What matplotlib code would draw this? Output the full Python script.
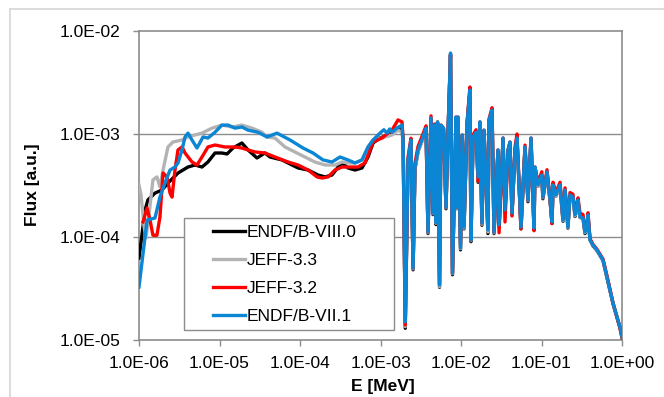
import matplotlib
matplotlib.use("Agg")
import matplotlib.pyplot as plt
from matplotlib.lines import Line2D
from matplotlib.patches import Rectangle

# ---------------- data ----------------
series_names = ["ENDF/B-VIII.0", "JEFF-3.3", "JEFF-3.2", "ENDF/B-VII.1"]
series_colors = ["#000000", "#b3b3b3", "#ff0000", "#0a86d4"]

x_ticks = [1e-6, 1e-5, 1e-4, 1e-3, 1e-2, 1e-1, 1e0]
x_tick_labels = ["1.0E-06", "1.0E-05", "1.0E-04", "1.0E-03", "1.0E-02", "1.0E-01", "1.0E+00"]
y_ticks = [1e-5, 1e-4, 1e-3, 1e-2]
y_tick_labels = ["1.0E-05", "1.0E-04", "1.0E-03", "1.0E-02"]

# low-energy part (thermal / epithermal), each library separately
black_E_low = [1.0e-6, 1.19e-6, 1.29e-6, 1.58e-6, 1.93e-6, 2.29e-6, 3.05e-6, 4.06e-6, 4.96e-6,
               6.06e-6, 7.19e-6, 8.79e-6, 1.07e-5, 1.24e-5, 1.47e-5, 1.90e-5, 2.26e-5, 2.92e-5,
               3.67e-5, 4.24e-5, 5.97e-5, 7.96e-5, 9.45e-5, 1.26e-4, 1.67e-4, 2.05e-4, 2.50e-4,
               2.97e-4, 3.33e-4, 3.95e-4, 4.82e-4, 5.89e-4, 7.00e-4, 8.08e-4, 9.86e-4, 1.24e-3,
               1.51e-3, 1.70e-3, 1.85e-3]
black_flux_low = [6.25e-5, 1.83e-4, 2.29e-4, 2.67e-4, 2.86e-4, 3.34e-4, 4.18e-4, 4.78e-4, 5.00e-4,
                  4.78e-4, 5.35e-4, 6.54e-4, 6.54e-4, 6.40e-4, 7.31e-4, 8.18e-4, 7.00e-4, 5.85e-4,
                  6.54e-4, 5.98e-4, 5.60e-4, 5.00e-4, 4.68e-4, 4.47e-4, 4.00e-4, 3.83e-4, 4.00e-4,
                  4.78e-4, 5.23e-4, 4.68e-4, 4.47e-4, 4.68e-4, 5.98e-4, 8.18e-4, 9.14e-4, 9.78e-4,
                  1.09e-3, 1.17e-3, 1.09e-3]

grey_E_low = [1.0e-6, 1.06e-6, 1.15e-6, 1.22e-6, 1.33e-6, 1.49e-6, 1.67e-6, 1.82e-6, 1.99e-6,
              2.29e-6, 2.64e-6, 3.42e-6, 4.06e-6, 4.96e-6, 6.06e-6, 8.07e-6, 1.07e-5, 1.43e-5,
              1.90e-5, 2.54e-5, 3.37e-5, 3.89e-5, 4.89e-5, 6.51e-5, 8.67e-5, 1.15e-4, 1.53e-4,
              2.05e-4, 2.72e-4, 3.33e-4, 3.95e-4, 4.82e-4, 5.89e-4, 7.00e-4, 8.08e-4, 1.04e-3,
              1.39e-3, 1.65e-3, 1.85e-3]
grey_flux_low = [3.20e-4, 2.56e-4, 1.31e-4, 9.78e-5, 1.64e-4, 3.58e-4, 3.83e-4, 3.06e-4, 4.47e-4,
                 7.48e-4, 8.36e-4, 8.75e-4, 9.35e-4, 9.78e-4, 1.02e-3, 1.14e-3, 1.22e-3, 1.17e-3,
                 1.22e-3, 1.14e-3, 1.04e-3, 9.35e-4, 9.14e-4, 7.48e-4, 6.69e-4, 5.98e-4, 5.35e-4,
                 5.00e-4, 5.00e-4, 5.35e-4, 5.23e-4, 5.23e-4, 5.60e-4, 7.48e-4, 8.75e-4, 9.14e-4,
                 9.78e-4, 1.09e-3, 1.04e-3]

red_E_low = [1.12e-6, 1.26e-6, 1.37e-6, 1.49e-6, 1.67e-6, 1.82e-6, 1.99e-6, 2.23e-6, 2.43e-6,
             2.57e-6, 2.80e-6, 3.05e-6, 3.42e-6, 3.73e-6, 4.55e-6, 5.25e-6, 6.06e-6, 7.19e-6,
             8.79e-6, 1.17e-5, 1.56e-5, 1.90e-5, 2.26e-5, 2.76e-5, 3.67e-5, 4.89e-5, 7.10e-5,
             9.45e-5, 1.26e-4, 1.63e-4, 1.88e-4, 2.23e-4, 2.72e-4, 3.33e-4, 3.95e-4, 5.25e-4,
             6.42e-4, 7.41e-4, 8.08e-4, 1.04e-3, 1.39e-3, 1.65e-3, 1.85e-3]
red_flux_low = [1.40e-4, 1.91e-4, 1.46e-4, 1.04e-4, 1.04e-4, 1.56e-4, 4.18e-4, 3.83e-4, 2.67e-4,
                2.44e-4, 4.47e-4, 7.00e-4, 7.48e-4, 6.54e-4, 5.35e-4, 5.00e-4, 5.98e-4, 7.48e-4,
                7.82e-4, 7.48e-4, 7.48e-4, 7.31e-4, 7.00e-4, 6.69e-4, 6.54e-4, 5.98e-4, 5.35e-4,
                5.00e-4, 4.47e-4, 3.83e-4, 3.74e-4, 3.83e-4, 4.47e-4, 4.78e-4, 4.78e-4, 4.78e-4,
                5.23e-4, 7.00e-4, 8.36e-4, 9.14e-4, 1.09e-3, 1.37e-3, 1.31e-3]

blue_E_low = [1.0e-6, 1.26e-6, 1.58e-6, 1.82e-6, 2.10e-6, 2.43e-6, 2.80e-6, 3.05e-6, 3.42e-6,
              3.73e-6, 4.06e-6, 4.55e-6, 5.25e-6, 6.24e-6, 7.19e-6, 8.79e-6, 1.07e-5, 1.28e-5,
              1.56e-5, 1.90e-5, 2.26e-5, 3.01e-5, 3.89e-5, 5.18e-5, 7.52e-5, 1.09e-4, 1.45e-4,
              1.93e-4, 2.50e-4, 3.14e-4, 3.95e-4, 4.82e-4, 5.89e-4, 7.00e-4, 8.08e-4, 9.86e-4,
              1.10e-3, 1.21e-3, 1.30e-3, 1.39e-3, 1.60e-3, 1.85e-3]
blue_flux_low = [3.27e-5, 1.46e-4, 1.53e-4, 2.44e-4, 3.34e-4, 4.47e-4, 4.78e-4, 5.23e-4, 7.00e-4,
                 9.35e-4, 1.02e-3, 8.75e-4, 7.31e-4, 9.35e-4, 9.14e-4, 1.04e-3, 1.22e-3, 1.22e-3,
                 1.14e-3, 1.17e-3, 1.09e-3, 1.04e-3, 9.35e-4, 1.02e-3, 8.75e-4, 7.31e-4, 6.54e-4,
                 5.60e-4, 5.35e-4, 5.98e-4, 5.60e-4, 5.23e-4, 5.60e-4, 7.48e-4, 8.75e-4, 1.02e-3,
                 1.10e-3, 1.02e-3, 1.12e-3, 1.04e-3, 1.14e-3, 1.22e-3]

# resolved-resonance / fast part, common energy grid
res_E = [1.91e-3, 2.03e-3, 2.20e-3, 2.39e-3, 2.54e-3, 2.68e-3, 2.93e-3, 3.37e-3, 3.68e-3, 3.89e-3,
         4.24e-3, 4.49e-3, 4.69e-3, 4.89e-3, 5.11e-3, 5.41e-3, 5.64e-3, 6.07e-3, 6.51e-3, 6.90e-3,
         7.41e-3, 7.84e-3, 8.67e-3, 8.91e-3, 9.18e-3, 9.86e-3, 1.04e-2, 1.09e-2, 1.19e-2, 1.29e-2,
         1.33e-2, 1.41e-2, 1.54e-2, 1.63e-2, 1.72e-2, 1.82e-2, 1.93e-2, 2.16e-2, 2.23e-2, 2.43e-2,
         2.57e-2, 2.88e-2, 2.97e-2, 3.33e-2, 3.52e-2, 3.84e-2, 4.06e-2, 4.30e-2, 4.69e-2, 4.96e-2,
         5.56e-2, 6.24e-2, 6.79e-2, 7.41e-2, 8.07e-2, 8.30e-2, 9.05e-2, 0.101, 0.104, 0.117,
         0.128, 0.135, 0.139, 0.151, 0.170, 0.185, 0.196, 0.213, 0.226, 0.246,
         0.261, 0.276, 0.284, 0.301, 0.328, 0.347, 0.367, 0.378, 0.400, 0.436,
         0.489, 0.533, 0.581, 0.651, 0.710, 0.773, 0.867, 0.944, 1.0]

blue_flux_res = [8.75e-4, 1.50e-5, 5.60e-4, 8.75e-4, 5.00e-5, 4.78e-4, 7.00e-4, 9.35e-4, 1.14e-3, 1.12e-4,
                 1.43e-3, 1.71e-4, 1.22e-3, 1.37e-4, 1.31e-3, 3.42e-5, 1.22e-3, 1.14e-3, 1.95e-4, 1.04e-3,
                 6.11e-3, 4.47e-5, 1.46e-3, 1.95e-4, 1.46e-3, 7.82e-5, 9.78e-4, 1.25e-4, 1.28e-3, 2.67e-3,
                 9.35e-5, 9.35e-4, 1.04e-3, 3.83e-4, 1.31e-3, 1.37e-4, 1.09e-3, 1.17e-4, 1.37e-3, 1.71e-3,
                 1.12e-4, 7.00e-4, 1.31e-4, 9.14e-4, 1.83e-4, 7.00e-4, 8.36e-4, 1.71e-4, 7.00e-4, 9.14e-4,
                 1.25e-4, 7.48e-4, 2.29e-4, 9.14e-4, 1.22e-4, 4.78e-4, 3.20e-4, 4.00e-4, 2.44e-4, 4.28e-4,
                 2.29e-4, 1.40e-4, 3.20e-4, 2.56e-4, 3.20e-4, 1.46e-4, 2.86e-4, 1.25e-4, 2.56e-4, 2.44e-4,
                 1.64e-4, 1.95e-4, 2.29e-4, 1.56e-4, 1.53e-4, 1.12e-4, 1.25e-4, 1.64e-4, 9.35e-5, 8.36e-5,
                 7.48e-5, 6.69e-5, 5.98e-5, 4.09e-5, 3.06e-5, 2.29e-5, 1.67e-5, 1.34e-5, 1.07e-5]

red_flux_res = [8.9e-4, 1.40e-5, 6.0e-4, 9.1e-4, 5.0e-5, 5.2e-4, 7.6e-4, 1.0e-3, 1.2e-3, 1.12e-4,
                1.5e-3, 1.71e-4, 1.25e-3, 1.37e-4, 1.31e-3, 3.5e-5, 1.22e-3, 1.14e-3, 1.95e-4, 1.04e-3,
                5.9e-3, 4.47e-5, 1.46e-3, 1.95e-4, 1.46e-3, 8.5e-5, 9.78e-4, 1.3e-4, 1.3e-3, 2.86e-3,
                9.35e-5, 9.8e-4, 1.1e-3, 3.5e-4, 1.31e-3, 1.37e-4, 1.09e-3, 1.25e-4, 1.4e-3, 1.8e-3,
                1.12e-4, 7.0e-4, 1.1e-4, 9.14e-4, 1.4e-4, 7.0e-4, 8.36e-4, 1.6e-4, 7.5e-4, 1.0e-3,
                1.2e-4, 7.8e-4, 2.29e-4, 9.14e-4, 1.15e-4, 4.78e-4, 3.4e-4, 4.3e-4, 2.44e-4, 4.5e-4,
                2.29e-4, 1.35e-4, 3.4e-4, 2.7e-4, 3.4e-4, 1.5e-4, 3.0e-4, 1.3e-4, 2.7e-4, 2.6e-4,
                1.7e-4, 2.1e-4, 2.4e-4, 1.7e-4, 1.65e-4, 1.15e-4, 1.3e-4, 1.72e-4, 9.6e-5, 8.5e-5,
                7.6e-5, 6.8e-5, 6.1e-5, 4.2e-5, 3.1e-5, 2.3e-5, 1.65e-5, 1.3e-5, 1.05e-5]

black_flux_res = [8.5e-4, 1.30e-5, 5.4e-4, 8.5e-4, 4.8e-5, 4.6e-4, 6.8e-4, 9.1e-4, 1.12e-3, 1.08e-4,
                  1.40e-3, 1.65e-4, 1.20e-3, 1.32e-4, 1.28e-3, 3.25e-5, 1.20e-3, 1.12e-3, 1.88e-4, 1.02e-3,
                  5.9e-3, 4.3e-5, 1.43e-3, 1.88e-4, 1.43e-3, 7.5e-5, 9.6e-4, 1.2e-4, 1.25e-3, 2.6e-3,
                  9.0e-5, 9.1e-4, 1.02e-3, 3.4e-4, 1.28e-3, 1.3e-4, 1.07e-3, 1.08e-4, 1.34e-3, 1.68e-3,
                  1.08e-4, 6.8e-4, 1.25e-4, 8.9e-4, 1.75e-4, 6.8e-4, 8.2e-4, 1.65e-4, 6.8e-4, 8.9e-4,
                  1.2e-4, 7.3e-4, 2.2e-4, 8.9e-4, 1.18e-4, 4.7e-4, 3.1e-4, 3.9e-4, 2.35e-4, 4.2e-4,
                  2.2e-4, 1.35e-4, 3.1e-4, 2.5e-4, 3.1e-4, 1.42e-4, 2.8e-4, 1.22e-4, 2.5e-4, 2.45e-4,
                  1.58e-4, 1.9e-4, 2.2e-4, 1.55e-4, 1.52e-4, 1.08e-4, 1.22e-4, 1.6e-4, 9.5e-5, 8.2e-5,
                  7.4e-5, 6.6e-5, 5.9e-5, 4.0e-5, 3.0e-5, 2.25e-5, 1.65e-5, 1.32e-5, 1.07e-5]

grey_flux_res = [8.4e-4, 1.35e-5, 5.3e-4, 8.4e-4, 4.9e-5, 4.5e-4, 6.7e-4, 9.0e-4, 1.10e-3, 1.10e-4,
                 1.38e-3, 1.68e-4, 1.18e-3, 1.35e-4, 1.26e-3, 3.3e-5, 1.18e-3, 1.10e-3, 1.92e-4, 1.0e-3,
                 5.8e-3, 4.4e-5, 1.41e-3, 1.9e-4, 1.41e-3, 7.7e-5, 9.5e-4, 1.22e-4, 1.24e-3, 2.55e-3,
                 9.2e-5, 9.0e-4, 1.0e-3, 3.5e-4, 1.26e-3, 1.33e-4, 1.05e-3, 1.12e-4, 1.32e-3, 1.65e-3,
                 1.1e-4, 6.7e-4, 1.28e-4, 8.8e-4, 1.78e-4, 6.7e-4, 8.1e-4, 1.68e-4, 6.7e-4, 8.8e-4,
                 1.22e-4, 7.2e-4, 2.25e-4, 8.8e-4, 1.2e-4, 4.6e-4, 3.1e-4, 3.85e-4, 2.4e-4, 4.1e-4,
                 2.25e-4, 1.38e-4, 3.05e-4, 2.5e-4, 3.05e-4, 1.44e-4, 2.75e-4, 1.24e-4, 2.5e-4, 2.4e-4,
                 1.6e-4, 1.9e-4, 2.2e-4, 1.55e-4, 1.5e-4, 1.1e-4, 1.23e-4, 1.6e-4, 9.3e-5, 8.3e-5,
                 7.4e-5, 6.6e-5, 5.9e-5, 4.05e-5, 3.05e-5, 2.28e-5, 1.66e-5, 1.33e-5, 1.07e-5]

x_label = "E [MeV]"
y_label = "Flux [a.u.]"

# ---------------- figure ----------------
W, H = 664, 397
fig = plt.figure(figsize=(W / 100, H / 100), dpi=100)
fig.patch.set_facecolor("white")

# outer chart-area border (only left and top visible in the crop)
fig.add_artist(Line2D([10 / W, 10 / W], [0, 1 - 9 / H], transform=fig.transFigure,
                      color="#d9d9d9", lw=1.3))
fig.add_artist(Line2D([10 / W, 1], [1 - 9 / H, 1 - 9 / H], transform=fig.transFigure,
                      color="#d9d9d9", lw=1.3))

ax = fig.add_axes([139 / W, 1 - 340 / H, (622 - 139) / W, (340 - 31) / H])
ax.set_xscale("log")
ax.set_yscale("log")
ax.set_xlim(1e-6, 1.0)
ax.set_ylim(1e-5, 1e-2)

all_E = [black_E_low + res_E, grey_E_low + res_E, red_E_low + res_E, blue_E_low + res_E]
all_F = [black_flux_low + black_flux_res, grey_flux_low + grey_flux_res,
         red_flux_low + red_flux_res, blue_flux_low + blue_flux_res]

handles = []
for name, col, E, F in zip(series_names, series_colors, all_E, all_F):
    ln, = ax.plot(E, F, color=col, lw=2.4, solid_joinstyle="round", label=name, zorder=3)
    handles.append(ln)

# gridlines (horizontal only)
ax.grid(False)
for yv in y_ticks[1:-1]:
    ax.axhline(yv, color="#8c8c8c", lw=1.0, zorder=1)

for sp in ax.spines.values():
    sp.set_color("#8c8c8c")
    sp.set_linewidth(1.2)

FONT = "Liberation Sans"
ax.set_xticks(x_ticks)
ax.set_xticklabels(x_tick_labels, fontsize=12.5, family=FONT)
ax.set_yticks(y_ticks)
ax.set_yticklabels(y_tick_labels, fontsize=12.5, family=FONT)
ax.minorticks_off()
ax.tick_params(axis="both", which="major", direction="out", length=4.5, width=1.0,
               color="#8c8c8c", labelcolor="black")
ax.tick_params(axis="y", pad=9)
ax.tick_params(axis="x", pad=7)

fig.text(383 / W, 1 - 387 / H, x_label, ha="center", va="center", fontsize=12.5,
         fontweight="bold", family=FONT)
fig.text(33 / W, 1 - 185 / H, y_label, ha="center", va="center", rotation=90,
         fontsize=12.5, fontweight="bold", family=FONT)

# legend frame + legend entries
fig.add_artist(Rectangle((184 / W, 1 - 330 / H), 210 / W, 112 / H, transform=fig.transFigure,
                         facecolor="white", edgecolor="#8c8c8c", lw=1.0, zorder=4))
leg = fig.legend(handles=handles, labels=series_names, loc="upper left",
                 bbox_to_anchor=(213 / W, 1 - 225 / H), bbox_transform=fig.transFigure,
                 frameon=False, borderpad=0, borderaxespad=0, handlelength=1.85,
                 handletextpad=0.1, labelspacing=0.74, prop={"family": FONT, "size": 12.5})
leg.set_zorder(5)

fig.savefig("out.png", dpi=100, facecolor="white")
